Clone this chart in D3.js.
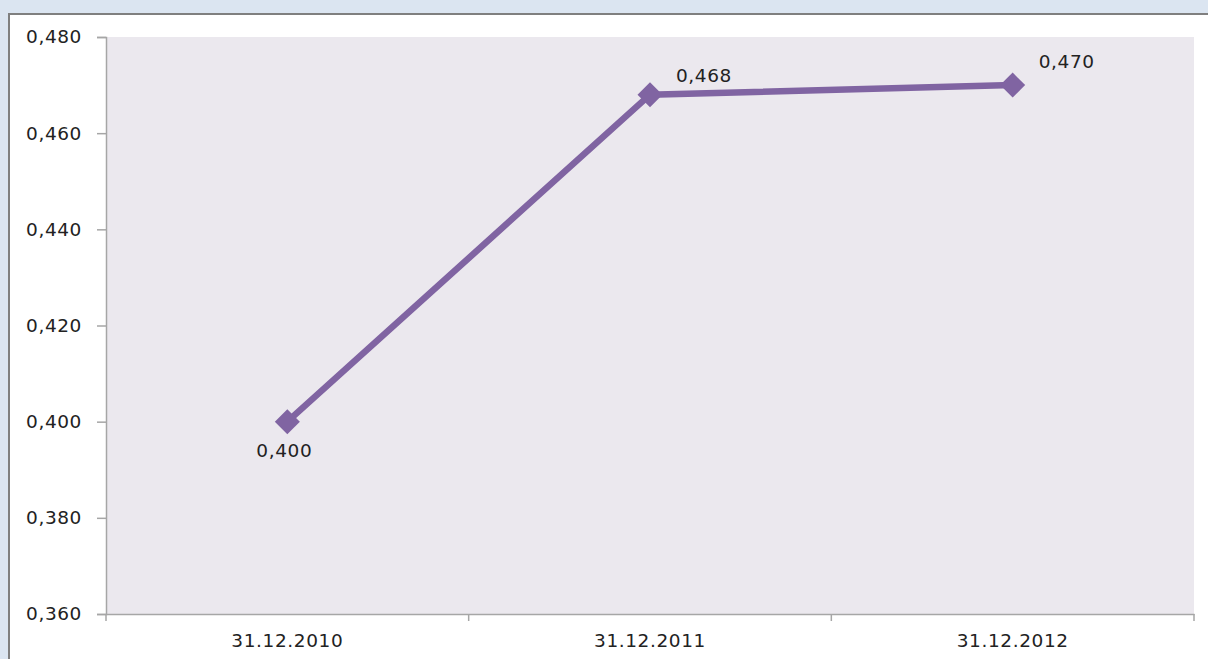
<html>
  <head>
    <meta charset="UTF-8" />
    <title>Chart</title>
    <script src="https://d3js.org/d3.v7.min.js"></script>
    <style>
      body { margin: 0; background: #dbe5f1; }
      text { font-family: "DejaVu Sans", sans-serif; fill: #222; letter-spacing: 0.6px; }
    </style>
  </head>
  <body>
    <div id="chart"></div>
    <script>
      // data
      const dates = ["31.12.2010", "31.12.2011", "31.12.2012"];
      const values = [0.4, 0.468, 0.47];
      const yTicks = [0.36, 0.38, 0.4, 0.42, 0.44, 0.46, 0.48];

      const W = 1208, H = 659;
      const m = { left: 106, right: 14, top: 37, bottom: 45 };
      const fmt = (v) => d3.format(".3f")(v).replace(".", ",");

      const svg = d3.select("#chart").append("svg")
        .attr("width", W).attr("height", H);

      // outer chart frame
      svg.append("rect")
        .attr("x", 9).attr("y", 14)
        .attr("width", W).attr("height", H)
        .attr("fill", "#fff")
        .attr("stroke", "#7f7f7f").attr("stroke-width", 2);

      const x = d3.scaleBand().domain(dates).range([m.left, W - m.right]);
      const y = d3.scaleLinear().domain([0.36, 0.48]).range([H - m.bottom, m.top]);

      // plot area
      svg.append("rect")
        .attr("x", m.left).attr("y", m.top)
        .attr("width", W - m.right - m.left)
        .attr("height", H - m.bottom - m.top)
        .attr("fill", "#ebe8ee");

      // y axis
      const yAxis = svg.append("g")
        .attr("transform", `translate(${m.left},0)`)
        .call(d3.axisLeft(y).tickValues(yTicks).tickFormat(fmt).tickSize(9).tickPadding(15));
      yAxis.select(".domain").attr("stroke", "#a6a6a6").attr("stroke-width", 1.5);
      yAxis.selectAll(".tick line").attr("stroke", "#a6a6a6").attr("stroke-width", 1.5);
      yAxis.selectAll(".tick text").style("font-size", "18.5px").attr("fill", "#222");

      // x axis
      const xAxis = svg.append("g")
        .attr("transform", `translate(0,${H - m.bottom})`)
        .call(d3.axisBottom(x).tickSize(0).tickPadding(20));
      xAxis.select(".domain").attr("stroke", "#a6a6a6").attr("stroke-width", 1.5);
      xAxis.selectAll(".tick text").style("font-size", "18.5px").attr("fill", "#222");
      // boundary tick marks between categories
      const bounds = dates.map((d) => x(d)).concat([x(dates[dates.length - 1]) + x.bandwidth()]);
      xAxis.selectAll(".bound").data(bounds).enter().append("line")
        .attr("x1", (d) => d).attr("x2", (d) => d)
        .attr("y1", 0).attr("y2", 7)
        .attr("stroke", "#a6a6a6").attr("stroke-width", 1.5);

      const pts = dates.map((d, i) => ({ d, v: values[i] }));
      const cx = (p) => x(p.d) + x.bandwidth() / 2;

      svg.append("path")
        .datum(pts)
        .attr("fill", "none")
        .attr("stroke", "#8064a2")
        .attr("stroke-width", 6.5)
        .attr("d", d3.line().x(cx).y((p) => y(p.v)));

      svg.selectAll(".mk").data(pts).enter().append("path")
        .attr("transform", (p) => `translate(${cx(p)},${y(p.v)})`)
        .attr("d", d3.symbol(d3.symbolDiamond2, 400)())
        .attr("fill", "#8064a2");

      svg.selectAll(".lbl").data(pts).enter().append("text")
        .attr("x", (p, i) => (i === 0 ? cx(p) - 3 : cx(p) + 26))
        .attr("y", (p, i) => (i === 0 ? y(p.v) + 35 : y(p.v) - (i === 1 ? 13 : 17)))
        .attr("text-anchor", (p, i) => (i === 0 ? "middle" : "start"))
        .style("font-size", "18.5px")
        .text((p) => fmt(p.v));
    </script>
  </body>
</html>
